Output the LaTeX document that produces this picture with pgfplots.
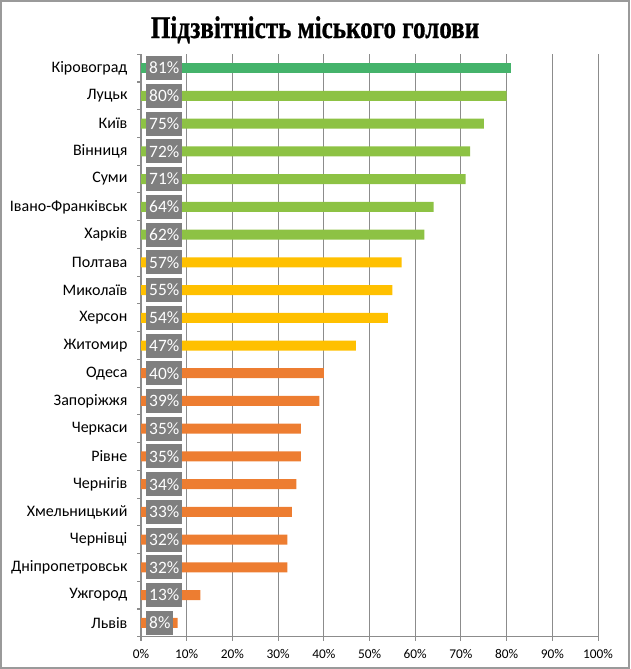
\documentclass[border=0pt]{standalone}
\usepackage{fontspec}
\setmainfont{Carlito}
\newfontfamily\titlefont[FakeStretch=0.8, BoldFeatures={FakeBold=0.8}]{Liberation Serif}
\usepackage{pgfplots}
\pgfplotsset{compat=1.18}
\definecolor{dkgreen}{HTML}{45B36B}
\definecolor{ltgreen}{HTML}{8DC244}
\definecolor{yel}{HTML}{FFC000}
\definecolor{org}{HTML}{ED7D31}
\definecolor{boxgray}{HTML}{7F7F7F}
\definecolor{gridgray}{HTML}{8C8C8C}
\definecolor{framegray}{HTML}{9A9A9A}
\begin{document}
\begin{tikzpicture}
\useasboundingbox (-105.75pt,-24.2pt) rectangle (366.75pt,477.5pt);
\draw[framegray, line width=1.5pt] (-105pt,-23.45pt) rectangle (366pt,476.75pt);
\begin{axis}[
  scale only axis, width=342.75pt, height=436.8pt,
  xmin=0, xmax=100, ymin=-0.5, ymax=20.5, y dir=reverse,
  axis x line*=bottom, axis y line*=left,
  axis line style={gridgray, line width=0.8pt, -},
  tick align=outside, major tick length=3pt,
  tick style={gridgray, line width=0.8pt},
  xtick={0,10,20,30,40,50,60,70,80,90,100},
  /pgf/number format/assume math mode=true,
  xticklabel={\pgfmathprintnumber{\tick}\%},
  x tick label style={font=\fontsize{10}{12}\selectfont, text=black, yshift=-3pt},
  xmajorgrids, major grid style={gridgray, line width=0.8pt},
  ytick={-0.5,0.5,1.5,2.5,3.5,4.5,5.5,6.5,7.5,8.5,9.5,10.5,11.5,12.5,13.5,14.5,15.5,16.5,17.5,18.5,19.5,20.5},
  yticklabel=\mbox{},
  extra y ticks={0,1,2,3,4,5,6,7,8,9,10,11,12,13,14,15,16,17,18,19,20},
  extra y tick labels={Кіровоград,Луцьк,Київ,Вінниця,Суми,Івано-Франківськ,Харків,Полтава,Миколаїв,Херсон,Житомир,Одеса,Запоріжжя,Черкаси,Рівне,Чернігів,Хмельницький,Чернівці,Дніпропетровськ,Ужгород,Львів},
  extra y tick style={tick style={draw=none}},
  y tick label style={anchor=east, inner sep=0pt, xshift=-7pt, font=\fontsize{12}{14}\selectfont, text=black},
  clip=false,
]
\addplot[xbar, bar width=7.5pt, bar shift=0pt, fill=dkgreen, draw=none] coordinates {(81,0)};
\addplot[xbar, bar width=7.5pt, bar shift=0pt, fill=ltgreen, draw=none] coordinates {(80,1) (75,2) (72,3) (71,4) (64,5) (62,6)};
\addplot[xbar, bar width=7.5pt, bar shift=0pt, fill=yel, draw=none] coordinates {(57,7) (55,8) (54,9) (47,10)};
\addplot[xbar, bar width=7.5pt, bar shift=0pt, fill=org, draw=none] coordinates {(40,11) (39,12) (35,13) (35,14) (34,15) (33,16) (32,17) (32,18) (13,19) (8,20)};
\addplot[only marks, mark=*, mark size=0pt, mark options={draw=none, fill=none},
  nodes near coords, point meta=explicit symbolic,
  nodes near coords style={anchor=west, fill=boxgray, text=white, inner xsep=2.2pt, inner ysep=0pt, minimum height=18pt, font=\fontsize{13}{14}\selectfont}]
  table[x=x, y=y, meta=l] {
x y l
1.1 0 81\%
1.1 1 80\%
1.1 2 75\%
1.1 3 72\%
1.1 4 71\%
1.1 5 64\%
1.1 6 62\%
1.1 7 57\%
1.1 8 55\%
1.1 9 54\%
1.1 10 47\%
1.1 11 40\%
1.1 12 39\%
1.1 13 35\%
1.1 14 35\%
1.1 15 34\%
1.1 16 33\%
1.1 17 32\%
1.1 18 32\%
1.1 19 13\%
1.1 20 8\%
};
\end{axis}
\node[anchor=base, font=\titlefont\bfseries\fontsize{23.5}{26}\selectfont] at (130.5pt,449pt) {Підзвітність міського голови};
\end{tikzpicture}
\end{document}
